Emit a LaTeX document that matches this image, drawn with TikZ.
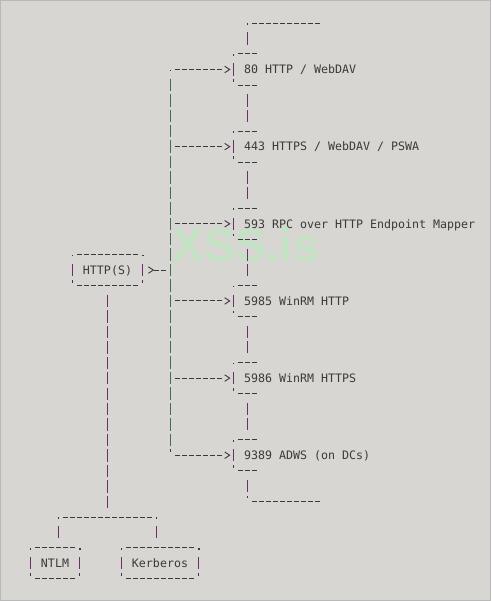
\documentclass[tikz,border=0pt]{standalone}
\usepackage{fontspec}
\setmonofont{DejaVu Sans Mono}
\newfontfamily\wmfont{Liberation Sans}
\usetikzlibrary{arrows.meta}
\definecolor{bg}{RGB}{216,214,210}
\definecolor{framec}{RGB}{185,185,185}
\definecolor{ink}{RGB}{58,58,58}
\definecolor{trunkc}{RGB}{62,112,78}
\definecolor{vlinec}{RGB}{108,48,104}
\definecolor{wmc}{RGB}{196,226,196}
\newcommand\mkcell[3]{\coordinate (#1) at ({9.5+7*(#2)},{-23.2-15.43*(#3)});}
\newcommand\adot[1]{\fill[ink] ([xshift=-0.8pt,yshift=-1.9pt]#1) rectangle ([xshift=0.8pt,yshift=-0.3pt]#1);}
\newcommand\atick[1]{\fill[ink] ([xshift=-0.6pt,yshift=3.2pt]#1) rectangle ([xshift=0.6pt,yshift=5.8pt]#1);}
\newcommand\aside[1]{\draw[sidebar] ([yshift=6.2pt]#1) -- ([yshift=-6.2pt]#1);}
\newcommand\asciibox[1]{%
  \draw[hdash] ([xshift=4.7pt]#1.north west) -- ([xshift=-4.7pt]#1.north east);
  \draw[hdash] ([xshift=4.7pt]#1.south west) -- ([xshift=-4.7pt]#1.south east);
  \adot{#1.north west}\adot{#1.north east}
  \atick{#1.south west}\atick{#1.south east}
  \aside{#1.west}\aside{#1.east}}
\newcommand\portbox[1]{%
  \draw[hdash] ([xshift=4.7pt]#1.north west) -- ([xshift=23.3pt]#1.north west);
  \draw[hdash] ([xshift=4.7pt]#1.south west) -- ([xshift=23.3pt]#1.south west);
  \adot{#1.north west}\atick{#1.south west}\aside{#1.west}}
\tikzset{
  mono/.style={font=\fontsize{11.63pt}{15.43pt}\selectfont\ttfamily, text=ink},
  port/.style={mono, anchor=west, inner xsep=10.5pt, inner ysep=0pt, minimum height=30.86pt, text height=8.5pt, text depth=0pt},
  abox/.style={mono, inner sep=0pt, minimum height=30.86pt, text height=8.5pt, text depth=0pt},
  hdash/.style={draw=ink, line width=0.9pt, dash pattern=on 4.6pt off 2.4pt},
  vdash/.style={line width=1pt, dash pattern=on 12.4pt off 3.03pt, shorten <=9.23pt, shorten >=9.23pt},
  trunkline/.style={vdash, draw=trunkc},
  chainline/.style={vdash, draw=vlinec},
  sidebar/.style={draw=vlinec, line width=1pt},
  feed/.style={draw=ink, line width=0.9pt, dash pattern=on 4.6pt off 2.4pt on 4.6pt off 2.4pt on 4.6pt off 2.4pt on 4.6pt off 2.4pt on 4.6pt off 2.4pt on 4.6pt off 2.4pt on 4.6pt off 40pt, shorten <=4.7pt, shorten >=3pt, -{Straight Barb[length=5pt,width=6.5pt]}},
  backfeed/.style={draw=ink, line width=0.9pt, dash pattern=on 4.6pt off 2.4pt on 4.6pt off 40pt, shorten <=4.7pt, shorten >=5.2pt, -{Straight Barb[reversed,length=5pt,width=6.5pt]}},
}
\begin{document}
\begin{tikzpicture}[x=1pt,y=1pt]
\useasboundingbox (0,0) rectangle (491,-601);
\fill[bg] (0,0) rectangle (491,-601);
\draw[framec, line width=1pt] (0.5,-0.5) rectangle (490.5,-600.5);
% watermark
\node[font=\wmfont\bfseries\fontsize{47pt}{47pt}\selectfont, text=wmc, anchor=base, inner sep=0pt] (wmark) at (246,-261.7) {XSS.is};
% coordinates
\mkcell{ctop}{34}{0}
\mkcell{cbot}{34}{31}
\mkcell{t3}{23}{3}
\mkcell{t8}{23}{8}
\mkcell{t13}{23}{13}
\mkcell{t16}{23}{16}
\mkcell{t18}{23}{18}
\mkcell{t23}{23}{23}
\mkcell{t28}{23}{28}
\mkcell{split}{14}{32}
\mkcell{sl}{7}{32}
\mkcell{sr}{21}{32}
% port nodes
\node[port] (p80)   at ({9.5+7*32},{-23.2-15.43*3})  {80 HTTP / WebDAV};
\node[port] (p443)  at ({9.5+7*32},{-23.2-15.43*8})  {443 HTTPS / WebDAV / PSWA};
\node[port] (p593)  at ({9.5+7*32},{-23.2-15.43*13}) {593 RPC over HTTP Endpoint Mapper};
\node[port] (p5985) at ({9.5+7*32},{-23.2-15.43*18}) {5985 WinRM HTTP};
\node[port] (p5986) at ({9.5+7*32},{-23.2-15.43*23}) {5986 WinRM HTTPS};
\node[port] (p9389) at ({9.5+7*32},{-23.2-15.43*28}) {9389 ADWS (on DCs)};
\portbox{p80}\portbox{p443}\portbox{p593}\portbox{p5985}\portbox{p5986}\portbox{p9389}
% other boxes
\node[abox, minimum width=70pt] (http) at ({9.5+7*14},{-23.2-15.43*16}) {HTTP(S)};
\node[abox, minimum width=49pt] (ntlm) at ({9.5+7*6.5},{-23.2-15.43*35}) {NTLM};
\node[abox, minimum width=77pt] (kerb) at ({9.5+7*21.5},{-23.2-15.43*35}) {Kerberos};
\asciibox{http}\asciibox{ntlm}\asciibox{kerb}
% port chain
\adot{ctop}
\draw[hdash] ([xshift=4.7pt]ctop) -- ([xshift=72.3pt]ctop);
\draw[chainline] (ctop) -- ([xshift=14pt]p80.north west);
\draw[chainline] ([xshift=14pt]p80.south west) -- ([xshift=14pt]p443.north west);
\draw[chainline] ([xshift=14pt]p443.south west) -- ([xshift=14pt]p593.north west);
\draw[chainline] ([xshift=14pt]p593.south west) -- ([xshift=14pt]p5985.north west);
\draw[chainline] ([xshift=14pt]p5985.south west) -- ([xshift=14pt]p5986.north west);
\draw[chainline] ([xshift=14pt]p5986.south west) -- ([xshift=14pt]p9389.north west);
\draw[chainline] ([xshift=14pt]p9389.south west) -- (cbot);
\atick{cbot}
\draw[hdash] ([xshift=4.7pt]cbot) -- ([xshift=72.3pt]cbot);
% trunk
\draw[trunkline] (t3) -- (t28);
\adot{t3}\atick{t28}
\draw[feed] (t3) -- (p80.west);
\draw[feed] (t8) -- (p443.west);
\draw[feed] (t13) -- (p593.west);
\draw[feed] (t18) -- (p5985.west);
\draw[feed] (t23) -- (p5986.west);
\draw[feed] (t28) -- (p9389.west);
\draw[backfeed] (t16) -- (http.east);
% auth split
\draw[chainline] (http.south) -- (split);
\draw[hdash, shorten <=4.7pt, shorten >=4.7pt] (sl) -- (sr);
\adot{sl}\adot{sr}
\draw[chainline] (sl) -- (sl |- ntlm.north);
\draw[chainline] (sr) -- (sr |- kerb.north);
\end{tikzpicture}
\end{document}
